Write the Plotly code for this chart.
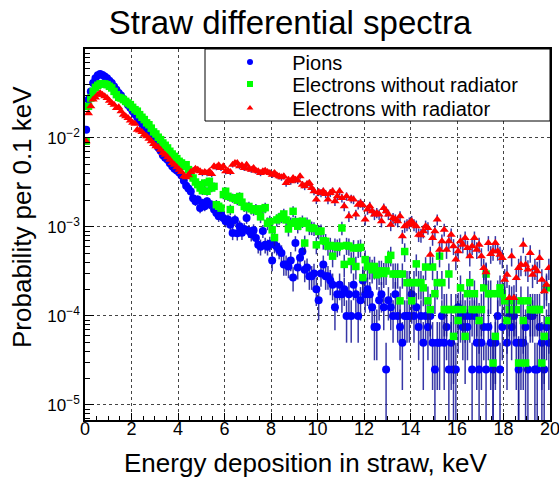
import numpy as np
import plotly.graph_objects as go

# Energy binning: 200 bins of 0.1 keV between 0 and 20 keV
BIN_EDGES = np.linspace(0.0, 20.0, 201)
ENERGY_KEV = 0.5 * (BIN_EDGES[:-1] + BIN_EDGES[1:])

# Probability per 0.1 keV bin (None = empty bin)
PIONS = [
    0.0124, 0.027, 0.0334, 0.0415, 0.047, 0.0506, 0.0524, 0.051, 0.049, 0.047,
    0.044, 0.0415, 0.038, 0.0349, 0.032, 0.030, 0.0275, 0.0255, 0.0235, 0.0218,
    0.0200, 0.0185, 0.0170, 0.0157, 0.0145, 0.0133, 0.0123, 0.0113, 0.0104, 0.0096,
    0.0085, 0.0078, 0.0072, 0.0064, 0.0060, 0.0057, 0.0052, 0.0048, 0.0045, 0.0043,
    0.0041, 0.0038, 0.0033, 0.0029, 0.0027, 0.0025, 0.0021, 0.00194, 0.00203, 0.00163,
    0.00186, 0.00171, 0.00194, 0.0018, 0.00178, 0.00157, 0.00144, 0.00132, 0.00138, 0.00126,
    0.00116, 0.00121, 0.00106, 0.000857, 0.0012, 0.00085, 0.00102, 0.00086, 0.00095, 0.00126,
    9.0e-4, 8.3e-4, 9.2e-4, 7.5e-4, 6.3e-4, 6.0e-4, 9.0e-4, 6.3e-4, 6.0e-4, 6.5e-4,
    4.2e-4, 6.3e-4, 6.0e-4, 5.5e-4, 5.1e-4, 3.8e-4, 3.8e-4, 3.6e-4, 4.2e-4, 2.7e-4,
    6.6e-4, 3.5e-4, 4.5e-4, 5.3e-4, 3.3e-4, 3.5e-4, 2.8e-4, 2.8e-4, 3.0e-4, 2.0e-4,
    1.5e-4, 3.0e-4, 3.8e-4, 2.8e-4, 2.8e-4, 2.5e-4, 2.25e-4, 1.25e-4, 1.75e-4, 2.25e-4,
    1.75e-4, 2.0e-4, 1.0e-4, 1.75e-4, 1.0e-4, 2.25e-4, 1.75e-4, 1.0e-4, 1.5e-4, 2.5e-4,
    1.75e-4, 2.0e-4, 1.75e-4, 1.25e-4, 7.5e-5, 7.5e-5, 1.5e-4, 1.75e-4, 1.25e-4, 2.5e-5,
    1.5e-4, 1.25e-4, 1.0e-4, 1.75e-4, 1.0e-4, 7.5e-5, 5.0e-5, 1.0e-4, 1.0e-4, 1.0e-4,
    1.75e-4, 1.0e-4, 1.25e-4, 7.5e-5, 1.0e-4, 5.0e-5, 1.0e-4, 7.5e-5, 1.0e-4, 5.0e-5,
    2.5e-5, 5.0e-5, 5.0e-5, 1.0e-4, 5.0e-5, 7.5e-5, 2.5e-5, 5.0e-5, 2.5e-5, 2.5e-5,
    1.25e-4, 1.0e-4, 7.5e-5, 1.0e-4, 7.5e-5, 1.0e-4, 2.5e-5, 1.0e-4, 5.0e-5, 2.5e-5,
    5.0e-5, 7.5e-5, 2.5e-5, 7.5e-5, 5.0e-5, 2.5e-5, 5.0e-5, 1.0e-4, 2.5e-5, 7.5e-5,
    None, 5.0e-5, 1.0e-4, 7.5e-5, 1.0e-4, 5.0e-5, 2.5e-5, 5.0e-5, 5.0e-5, 7.5e-5,
    2.5e-5, 1.0e-4, 1.0e-4, 2.5e-5, 2.5e-5, 7.5e-5, 5.0e-5, 2.5e-5, 7.5e-5, 5.0e-5,
]

ELECTRONS_NO_RAD = [
    9.2e-3, 0.0227, 0.0281, 0.0334, 0.0371, 0.0391, 0.0405, 0.0408, 0.0405, 0.0397,
    0.0381, 0.0365, 0.0334, 0.0307, 0.0286, 0.0281, 0.0270, 0.0258, 0.0247, 0.0237,
    0.0221, 0.0208, 0.0200, 0.0183, 0.0171, 0.0161, 0.0148, 0.0141, 0.0129, 0.0117,
    0.0111, 0.0102, 9.58e-3, 8.79e-3, 8.28e-3, 7.73e-3, 7.09e-3, 6.61e-3, 6.22e-3, 5.86e-3,
    5.47e-3, 5.24e-3, 4.80e-3, 5.01e-3, 4.41e-3, 3.87e-3, 3.55e-3, 3.20e-3, 2.99e-3, 2.74e-3,
    2.56e-3, 3.12e-3, 2.52e-3, 3.26e-3, 2.74e-3, 2.86e-3, 1.78e-3, 1.71e-3, 1.63e-3, 2.31e-3,
    2.52e-3, 2.21e-3, 1.57e-3, 2.12e-3, 2.1e-3, 2.0e-3, 2.2e-3, 1.9e-3, 1.7e-3, 1.65e-3,
    1.7e-3, 1.6e-3, 1.55e-3, 1.6e-3, 1.5e-3, 1.3e-3, 1.6e-3, 1.65e-3, 1.1e-3, 1.15e-3,
    9.3e-4, 7.6e-4, 1.2e-3, 1.25e-3, 1.3e-3, 1.4e-3, 1.2e-3, 9.5e-4, 1.1e-3, 1.5e-3,
    1.15e-3, 1.02e-3, 1.1e-3, 1.16e-3, 6.6e-4, 1.1e-3, 9.8e-4, 9.8e-4, 9.6e-4, 6.3e-4,
    8.9e-4, 9.0e-4, 7.0e-4, 6.9e-4, 6.1e-4, 6.2e-4, 4.7e-4, 6.1e-4, 5.9e-4, 6.1e-4,
    9.75e-4, 3.8e-4, 6.2e-4, 6.1e-4, 4.1e-4, 5.8e-4, 3.6e-4, 5.8e-4, 5.9e-4, 2.7e-4,
    4.3e-4, 3.6e-4, 3.6e-4, 3.3e-4, 3.6e-4, 2.9e-4, 3.2e-4, 3.2e-4, 3.0e-4, 3.2e-4,
    4.3e-4, 4.8e-4, 2.96e-4, 2.96e-4, 2.96e-4, 1.48e-4, 2.96e-4, 5.3e-4, 2.37e-4, 2.37e-4,
    1.48e-4, 2.37e-4, 3.85e-4, 2.37e-4, 2.37e-4, 2.07e-4, 3.55e-4, 1.48e-4, 1.18e-4, 3.55e-4,
    1.78e-4, 2.37e-4, 4.7e-4, 2.37e-4, 1.18e-4, 1.18e-4, 2.96e-4, 1.18e-4, 5.9e-5, 1.18e-4,
    8.9e-5, 2.07e-4, 1.18e-4, 5.9e-5, 1.78e-4, 2.37e-4, 1.18e-4, 1.78e-4, 1.18e-4, 8.9e-5,
    1.18e-4, 2.07e-4, 2.96e-4, 1.78e-4, 1.78e-4, 2.96e-5, 5.9e-5, 1.78e-4, 2.07e-4, 1.78e-4,
    1.48e-4, 8.9e-5, 1.18e-4, 1.48e-4, 1.18e-4, 1.18e-4, 2.96e-5, 1.48e-4, 8.9e-5, 2.96e-5,
    1.48e-4, 1.18e-4, 1.18e-4, 1.18e-4, 1.18e-4, 1.18e-4, 2.96e-5, 5.9e-5, 2.07e-4, 8.9e-5,
]

ELECTRONS_RAD = [
    9.2e-3, 0.0190, 0.0227, 0.0270, 0.0286, 0.0307, 0.0321, 0.0307, 0.0294, 0.0281,
    0.0262, 0.0247, 0.0237, 0.0217, 0.0221, 0.0200, 0.0183, 0.0175, 0.0168, 0.0157,
    0.0148, 0.0145, 0.0124, 0.0121, 0.0117, 0.0109, 0.01044, 9.83e-3, 9.18e-3, 8.57e-3,
    8.06e-3, 7.86e-3, 7.40e-3, 6.78e-3, 6.50e-3, 6.07e-3, 5.71e-3, 5.24e-3, 5.01e-3, 4.68e-3,
    4.41e-3, 4.15e-3, 3.71e-3, 3.61e-3, 3.81e-3, 4.15e-3, 4.29e-3, 4.52e-3, 4.41e-3, 4.22e-3,
    4.04e-3, 4.15e-3, 4.04e-3, 4.22e-3, 3.94e-3, 4.80e-3, 4.68e-3, 4.93e-3, 4.60e-3, 4.80e-3,
    4.22e-3, 4.29e-3, 4.15e-3, 5.01e-3, 5.24e-3, 5.24e-3, 4.80e-3, 4.93e-3, 4.60e-3, 5.01e-3,
    4.52e-3, 4.41e-3, 4.60e-3, 4.29e-3, 4.22e-3, 4.04e-3, 4.22e-3, 4.29e-3, 4.15e-3, 4.04e-3,
    3.87e-3, 4.04e-3, 3.81e-3, 3.71e-3, 3.61e-3, 3.71e-3, 3.12e-3, 3.40e-3, 3.26e-3, 3.55e-3,
    3.40e-3, 3.32e-3, 3.71e-3, 2.99e-3, 2.86e-3, 3.04e-3, 3.12e-3, 2.74e-3, 2.52e-3, 2.03e-3,
    2.47e-3, 2.41e-3, 2.52e-3, 2.35e-3, 2.03e-3, 2.41e-3, 2.52e-3, 1.94e-3, 2.21e-3, 2.52e-3,
    2.12e-3, 1.71e-3, 2.21e-3, 1.32e-3, 2.08e-3, 2.03e-3, 1.38e-3, 1.78e-3, 1.86e-3, 1.75e-3,
    1.21e-3, 1.57e-3, 1.71e-3, 1.50e-3, 1.38e-3, 1.44e-3, 1.38e-3, 1.16e-3, 1.63e-3, 1.50e-3,
    1.38e-3, 1.06e-3, 1.26e-3, 1.21e-3, 1.16e-3, 1.32e-3, 7.86e-4, 1.02e-3, 1.06e-3, 1.11e-3,
    1.16e-3, 1.06e-3, 1.02e-3, 8.20e-4, 8.06e-4, 8.94e-4, 1.02e-3, 9.74e-4, 4.89e-4, 7.52e-4,
    8.94e-4, 1.21e-3, 5.56e-4, 6.90e-4, 9.33e-4, 5.56e-4, 6.90e-4, 8.20e-4, 6.06e-4, 4.30e-4,
    5.33e-4, 6.90e-4, 6.33e-4, 7.52e-4, 5.81e-4, 4.68e-4, 6.06e-4, 7.52e-4, 5.56e-4, 6.33e-4,
    4.68e-4, 3.46e-4, 3.10e-4, 6.61e-4, 4.97e-4, 5.33e-4, 6.61e-4, 5.33e-4, 4.89e-4, 4.48e-4,
    2.56e-4, 2.91e-4, 1.59e-4, 4.68e-4, 1.59e-4, 2.67e-4, 3.46e-4, 3.77e-4, 6.33e-4, 3.77e-4,
    3.32e-4, 5.10e-4, 2.91e-4, 3.46e-4, 3.18e-4, 4.48e-4, 2.56e-4, 1.89e-4, 2.25e-4, 3.46e-4,
]

# Probability carried by a single entry of each histogram (sets the Poisson errors)
ENTRY_WEIGHT = {"pions": 2.49e-5, "e_norad": 2.96e-5, "e_rad": 2.5e-5}

SERIES_NAMES = ["Pions", "Electrons without radiator", "Electrons with radiator"]

Y_TICKS = [1e-5, 1e-4, 1e-3, 1e-2]
Y_TICK_TEXT = ["10<sup>\u22125</sup>", "10<sup>\u22124</sup>", "10<sup>\u22123</sup>", "10<sup>\u22122</sup>"]
X_TICKS = list(range(0, 21, 2))

FONT = "Liberation Sans, Arial, Helvetica, sans-serif"
ERR_COLOR = "rgba(20,20,150,0.85)"


def poisson_errors(values, weight):
    return [None if v is None else float(np.sqrt(v * weight)) for v in values]


fig = go.Figure()

styles = [
    (PIONS, ENTRY_WEIGHT["pions"], "circle", 8, "#0000ff"),
    (ELECTRONS_NO_RAD, ENTRY_WEIGHT["e_norad"], "square", 7.5, "#00ff00"),
    (ELECTRONS_RAD, ENTRY_WEIGHT["e_rad"], "triangle-up", 8, "#ff0000"),
]

for values, weight, symbol, size, color in styles:
    fig.add_trace(go.Scatter(
        x=ENERGY_KEV, y=values, mode="markers",
        marker=dict(symbol=symbol, size=size, color=color, line=dict(width=0)),
        error_y=dict(type="data", array=poisson_errors(values, weight), symmetric=True,
                     color=ERR_COLOR, thickness=1.5, width=0),
        showlegend=False, hoverinfo="x+y",
    ))

# legend entries (one legend per row, so the row spacing can be set freely)
NBSP_GAP = "\u00a0" * 4
legend_rows = ["legend", "legend2", "legend3"]
for name, (_, _, symbol, _, color), lg in zip(SERIES_NAMES, styles, legend_rows):
    fig.add_trace(go.Scatter(
        x=[None], y=[None], mode="markers", name=NBSP_GAP + name,
        marker=dict(symbol=symbol, size=6, color=color, line=dict(width=0)),
        legend=lg, showlegend=True,
    ))

L, R, T, B = 85, 9, 49, 57
W, H = 559, 477
PW, PH = W - L - R, H - T - B


def px_x(px):
    return (px - L) / PW


def px_y(py):
    return (H - B - py) / PH


legend_common = dict(
    xanchor="left", yanchor="middle",
    font=dict(family=FONT, size=20, color="black"),
    bgcolor="rgba(0,0,0,0)", borderwidth=0,
)
layout_legends = {}
for lg, row_y in zip(legend_rows, [62, 84, 108]):
    layout_legends[lg] = dict(x=px_x(230), y=px_y(row_y), **legend_common)

y_minor = [k * 10.0 ** e for e in range(-6, -1) for k in range(2, 10)]

fig.update_layout(
    width=W, height=H,
    margin=dict(l=L, r=R, t=T, b=B, pad=0, autoexpand=False),
    paper_bgcolor="white", plot_bgcolor="white",
    font=dict(family=FONT, color="black"),
    title=dict(text="Straw differential spectra", x=290 / W, y=1 - 22 / H,
               xref="container", yref="container", xanchor="center", yanchor="middle",
               font=dict(family=FONT, size=33, color="black")),
    xaxis=dict(
        range=[0, 20], tickmode="array", tickvals=X_TICKS, automargin=False,
        ticklabeloverflow="allow", ticklabelstandoff=-8,
        ticks="inside", ticklen=7, tickwidth=1, tickcolor="black",
        minor=dict(ticks="inside", ticklen=4, dtick=0.5, tickcolor="black", showgrid=False),
        showgrid=True, gridcolor="#444", griddash="dot", gridwidth=1,
        showline=True, linecolor="black", linewidth=1.5, mirror=True,
        zeroline=False, tickfont=dict(family=FONT, size=18, color="black"),
    ),
    yaxis=dict(
        type="log", range=[-5.169, -1.0], tickmode="array", automargin=False,
        ticklabeloverflow="allow",
        tickvals=Y_TICKS, ticktext=Y_TICK_TEXT,
        ticks="inside", ticklen=9, tickwidth=1, tickcolor="black",
        minor=dict(ticks="inside", ticklen=5, tickmode="array", tickvals=y_minor,
                   tickcolor="black", showgrid=False),
        showgrid=True, gridcolor="#444", griddash="dot", gridwidth=1,
        showline=True, linecolor="black", linewidth=1.5, mirror=True,
        zeroline=False, tickfont=dict(family=FONT, size=17, color="black"),
    ),
    shapes=[dict(type="rect", xref="paper", yref="paper",
                 x0=px_x(205), x1=1.0, y0=px_y(121), y1=1.0,
                 fillcolor="white", line=dict(color="black", width=1), layer="above")],
    annotations=[
        dict(text="Energy deposition in straw, keV", xref="paper", yref="paper",
             x=px_x(305), y=px_y(463), xanchor="center", yanchor="middle",
             showarrow=False, font=dict(family=FONT, size=26, color="black")),
        dict(text="Probability per 0.1 keV", xref="paper", yref="paper",
             x=px_x(22), y=px_y(217), xanchor="center", yanchor="middle", textangle=-90,
             showarrow=False, font=dict(family=FONT, size=26, color="black")),
    ],
    **layout_legends,
)

fig.write_html("out.html")
